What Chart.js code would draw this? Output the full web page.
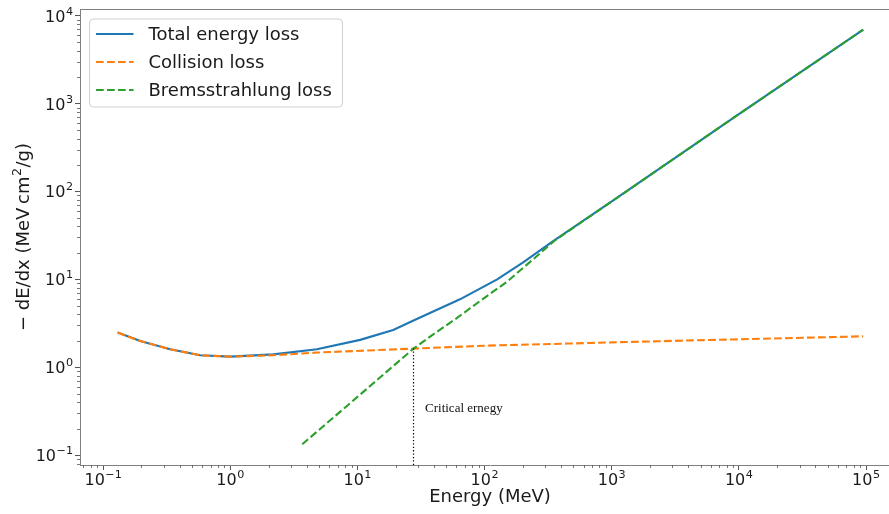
<!DOCTYPE html>
<html>
<head>
<meta charset="utf-8">
<script src="https://cdn.jsdelivr.net/npm/chart.js@4.4.1/dist/chart.umd.min.js"></script>
<style>
html,body{margin:0;padding:0;background:#fff;overflow:hidden;}
#wrap{width:910px;height:514px;position:relative;}
</style>
</head>
<body>
<div id="wrap"><canvas id="c" width="910" height="514"></canvas></div>
<script>
// ---------- data ----------
const energyTotal = [0.13, 0.196, 0.337, 0.58, 1.0, 2.18, 4.8, 10.5, 19.1, 27.6, 64, 125.6, 201, 346, 1000, 10000, 95000];
const totalLoss   = [2.48, 1.99, 1.60, 1.37, 1.32, 1.40, 1.60, 2.05, 2.65, 3.40, 5.93, 10.0, 15.6, 27.2, 77, 760, 6930];

const energyCollision = [0.13, 0.196, 0.337, 0.58, 1.0, 2.18, 4.8, 27.6, 100, 454, 1000, 10000, 95000];
const collisionLoss   = [2.48, 1.99, 1.60, 1.37, 1.32, 1.37, 1.47, 1.63, 1.76, 1.86, 1.92, 2.08, 2.25];

const energyBrems = [3.68, 10, 27.6, 40, 60, 92, 150, 228, 360, 1000, 10000, 95000];
const bremsLoss   = [0.133, 0.46, 1.63, 2.4, 3.6, 5.67, 9.4, 15.8, 28.0, 77, 760, 6930];

const criticalEnergy = 27.6;
const criticalLoss = 1.63;
const criticalLabel = 'Critical ernegy';
const criticalLabelPos = [34, 0.31];

const seriesLabels = ['Total energy loss', 'Collision loss', 'Bremsstrahlung loss'];

const xTickValues = [0.1, 1, 10, 100, 1000, 10000, 100000];
const xTickExponents = ['\u22121', '0', '1', '2', '3', '4', '5'];
const yTickValues = [0.1, 1, 10, 100, 1000, 10000];
const yTickExponents = ['\u22121', '0', '1', '2', '3', '4'];
const tickBase = '10';

const X_MIN = Math.pow(10, -1.182), X_MAX = Math.pow(10, 5.267);
const Y_MIN = Math.pow(10, -1.112), Y_MAX = Math.pow(10, 4.076);

const xTitle = 'Energy (MeV)';
// y title parts: [text, superscript?]
const yTitleParts = [['\u2212 dE/dx (MeV\u2009cm', false], ['2', true], ['/g)', false]];

// ---------- styles ----------
const BLUE = '#1f77b4', ORANGE = '#ff7f0e', GREEN = '#2ca02c';
const SPINE = '#808080', TICK = '#555555', TEXT = '#1a1a1a';
const DASH = [7.7, 3.3];
const LW = 2.1;
const FONT = "'DejaVu Sans', sans-serif";

const toPts = (xs, ys) => xs.map((x, i) => ({x: x, y: ys[i]}));

Chart.defaults.font.family = FONT;
Chart.defaults.color = TEXT;

function drawPower(ctx, exp, x, baseline, align) {
  ctx.font = '16px ' + FONT;
  const wb = ctx.measureText(tickBase).width;
  ctx.font = '11.2px ' + FONT;
  const we = ctx.measureText(exp).width;
  const total = wb + we + 0.5;
  let x0 = align === 'center' ? x - total / 2 : x - total;
  ctx.textAlign = 'left';
  ctx.textBaseline = 'alphabetic';
  ctx.font = '16px ' + FONT;
  ctx.fillText(tickBase, x0, baseline);
  ctx.font = '11.2px ' + FONT;
  ctx.fillText(exp, x0 + wb + 0.5, baseline - 7);
}

const decor = {
  id: 'decor',
  beforeDatasetsDraw(chart) {
    const ctx = chart.ctx, a = chart.chartArea;
    const xs = chart.scales.x, ys = chart.scales.y;
    ctx.save();
    // top & right spines
    ctx.strokeStyle = SPINE; ctx.lineWidth = 1;
    ctx.beginPath();
    ctx.moveTo(a.left, a.top + 0.5); ctx.lineTo(a.right, a.top + 0.5);
    ctx.moveTo(a.right - 0.5, a.top); ctx.lineTo(a.right - 0.5, a.bottom);
    ctx.stroke();
    // minor ticks
    ctx.strokeStyle = TICK; ctx.lineWidth = 0.8;
    ctx.beginPath();
    for (let n = -3; n <= 6; n++) {
      for (let k = 2; k <= 9; k++) {
        const v = k * Math.pow(10, n);
        if (v > xs.min && v < xs.max) {
          const px = Math.round(xs.getPixelForValue(v)) + 0.5;
          ctx.moveTo(px, a.bottom); ctx.lineTo(px, a.bottom + 3);
        }
        if (v > ys.min && v < ys.max) {
          const py = Math.round(ys.getPixelForValue(v)) + 0.5;
          ctx.moveTo(a.left, py); ctx.lineTo(a.left - 3, py);
        }
      }
    }
    ctx.stroke();
    // tick labels
    ctx.fillStyle = TEXT;
    xTickValues.forEach((v, i) => {
      drawPower(ctx, xTickExponents[i], xs.getPixelForValue(v), a.bottom + 20, 'center');
    });
    yTickValues.forEach((v, i) => {
      drawPower(ctx, yTickExponents[i], a.left - 7, ys.getPixelForValue(v) + 6, 'right');
    });
    // y title
    ctx.translate(22, (a.top + a.bottom) / 2);
    ctx.rotate(-Math.PI / 2);
    let total = 0;
    yTitleParts.forEach(p => { ctx.font = (p[1] ? '12.6px ' : '18px ') + FONT; total += ctx.measureText(p[0]).width + (p[1] ? 1 : 0); });
    let cx = -total / 2;
    ctx.textAlign = 'left'; ctx.textBaseline = 'alphabetic';
    yTitleParts.forEach(p => {
      ctx.font = (p[1] ? '12.6px ' : '18px ') + FONT;
      ctx.fillText(p[0], cx + (p[1] ? 0.5 : 0), p[1] ? -1 : 6.5);
      cx += ctx.measureText(p[0]).width + (p[1] ? 1 : 0);
    });
    ctx.restore();
  },
  afterDatasetsDraw(chart) {
    const ctx = chart.ctx, a = chart.chartArea;
    const xs = chart.scales.x, ys = chart.scales.y;
    ctx.save();
    // annotation
    ctx.fillStyle = '#111';
    ctx.font = "13px 'Liberation Serif', 'Times New Roman', serif";
    ctx.textBaseline = 'alphabetic'; ctx.textAlign = 'left';
    ctx.fillText(criticalLabel, xs.getPixelForValue(criticalLabelPos[0]), ys.getPixelForValue(criticalLabelPos[1]));
    // legend
    const bx = a.left + 9.5, by = a.top + 10, bw = 253, bh = 88, r = 4;
    ctx.beginPath();
    ctx.moveTo(bx + r, by);
    ctx.lineTo(bx + bw - r, by); ctx.arcTo(bx + bw, by, bx + bw, by + r, r);
    ctx.lineTo(bx + bw, by + bh - r); ctx.arcTo(bx + bw, by + bh, bx + bw - r, by + bh, r);
    ctx.lineTo(bx + r, by + bh); ctx.arcTo(bx, by + bh, bx, by + bh - r, r);
    ctx.lineTo(bx, by + r); ctx.arcTo(bx, by, bx + r, by, r);
    ctx.closePath();
    ctx.fillStyle = 'rgba(255,255,255,0.8)'; ctx.fill();
    ctx.strokeStyle = '#d0d0d0'; ctx.lineWidth = 1; ctx.stroke();
    ctx.font = '18px ' + FONT;
    ctx.textBaseline = 'middle';
    [0, 1, 2].forEach((di, row) => {
      const ds = chart.data.datasets[di];
      const yy = by + 15 + row * 28;
      ctx.beginPath();
      ctx.setLineDash(ds.borderDash || []);
      ctx.strokeStyle = ds.borderColor; ctx.lineWidth = ds.borderWidth;
      ctx.moveTo(bx + 6.5, yy); ctx.lineTo(bx + 44, yy);
      ctx.stroke();
      ctx.setLineDash([]);
      ctx.fillStyle = TEXT;
      ctx.fillText(ds.label, bx + 59, yy + 1);
    });
    ctx.restore();
  }
};

new Chart(document.getElementById('c'), {
  type: 'line',
  data: {
    datasets: [
      {label: seriesLabels[0], data: toPts(energyTotal, totalLoss), borderColor: BLUE, borderWidth: LW, order: 3},
      {label: seriesLabels[1], data: toPts(energyCollision, collisionLoss), borderColor: ORANGE, borderWidth: LW, borderDash: DASH, order: 2},
      {label: seriesLabels[2], data: toPts(energyBrems, bremsLoss), borderColor: GREEN, borderWidth: LW, borderDash: DASH, order: 1},
      {label: 'critical', data: [{x: criticalEnergy, y: Y_MIN}, {x: criticalEnergy, y: criticalLoss}], borderColor: '#000', borderWidth: 1.2, borderDash: [1.3, 2.1], order: 0}
    ]
  },
  options: {
    responsive: false,
    devicePixelRatio: 1,
    animation: false,
    events: [],
    elements: {point: {radius: 0}, line: {tension: 0, fill: false}},
    layout: {padding: {left: 0, right: 10, top: 9, bottom: 0}},
    plugins: {legend: {display: false}, tooltip: {enabled: false}},
    scales: {
      x: {
        type: 'logarithmic', min: X_MIN, max: X_MAX, bounds: 'data',
        afterBuildTicks: s => { s.ticks = xTickValues.map(v => ({value: v})); },
        afterFit: s => { s.height = 49; s.paddingLeft = 0; s.paddingRight = 0; },
        ticks: {display: false},
        grid: {drawOnChartArea: false, drawTicks: true, tickLength: 5, color: TICK, lineWidth: 1},
        border: {display: true, color: SPINE, width: 1},
        title: {display: true, text: xTitle, font: {size: 18}, color: TEXT, padding: {top: 0, bottom: 6}}
      },
      y: {
        type: 'logarithmic', min: Y_MIN, max: Y_MAX, bounds: 'data',
        afterBuildTicks: s => { s.ticks = yTickValues.map(v => ({value: v})); },
        afterFit: s => { s.width = 80; s.paddingTop = 0; s.paddingBottom = 0; },
        ticks: {display: false},
        grid: {drawOnChartArea: false, drawTicks: true, tickLength: 5, color: TICK, lineWidth: 1},
        border: {display: true, color: SPINE, width: 1},
        title: {display: false}
      }
    }
  },
  plugins: [decor]
});
</script>
</body>
</html>
